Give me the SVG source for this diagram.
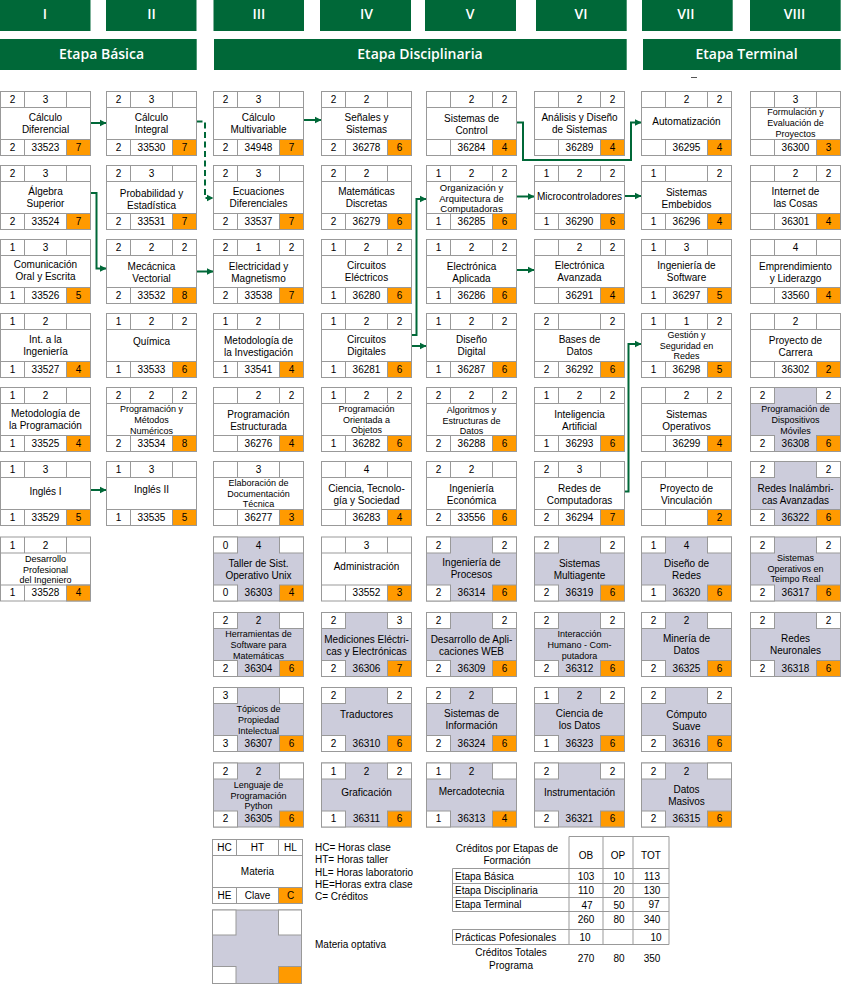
<svg xmlns="http://www.w3.org/2000/svg" xmlns:xlink="http://www.w3.org/1999/xlink" width="843" height="984" viewBox="0 0 843 984">
<style>
.hd{fill:#006838}
.ht{font-family:"Open Sans","Noto Sans",sans-serif;font-size:14px;font-weight:600;fill:#fff;text-anchor:middle}
.d{font-family:"Liberation Sans",Arial,sans-serif;font-size:10px;fill:#000;text-anchor:middle}
.l{font-family:"Liberation Sans",Arial,sans-serif;font-size:10px;fill:#000;text-anchor:middle}
.s{font-family:"Liberation Sans",Arial,sans-serif;font-size:9px;fill:#000;text-anchor:middle}
.lg{font-family:"Liberation Sans",Arial,sans-serif;font-size:10px;fill:#000}
.tb{font-family:"Liberation Sans",Arial,sans-serif;font-size:10px;fill:#000}
.tc{text-anchor:middle}
.c{fill:none;stroke:#006838;stroke-width:2;marker-end:url(#ah)}
.g{stroke:#999;fill:none;stroke-width:1}
</style>
<defs>
<marker id="ah" markerUnits="userSpaceOnUse" markerWidth="7" markerHeight="8" refX="7" refY="4" orient="auto"><path d="M0,0.5 L7,4 L0,7.5 z" fill="#006838"/></marker>
<g id="bn">
<rect x="0" y="0" width="90" height="64" fill="#fff" stroke="#999"/>
<rect x="66" y="48" width="24" height="16" fill="#FF9A00" stroke="#999"/>
<path d="M0,16H90M0,48H90M24,0V16M66,0V16M24,48V64M66,48V64" stroke="#999" fill="none"/>
</g>
<g id="bo">
<rect x="0" y="0" width="90" height="64" fill="#CCCCDB" stroke="#999"/>
<rect x="0" y="0" width="24" height="16" fill="#fff" stroke="#999"/>
<rect x="66" y="0" width="24" height="16" fill="#fff" stroke="#999"/>
<rect x="0" y="48" width="24" height="16" fill="#fff" stroke="#999"/>
<rect x="66" y="48" width="24" height="16" fill="#FF9A00" stroke="#999"/>
</g>
</defs>
<rect width="843" height="984" fill="#fff"/>

<g id="headers">
<rect class="hd" x="0" y="0" width="90.5" height="31"/>
<rect class="hd" x="106" y="0" width="90.5" height="31"/>
<rect class="hd" x="213.5" y="0" width="90.5" height="31"/>
<rect class="hd" x="320" y="0" width="91" height="31"/>
<rect class="hd" x="425" y="0" width="91" height="31"/>
<rect class="hd" x="536" y="0" width="90.7" height="31"/>
<rect class="hd" x="642" y="0" width="90.7" height="31"/>
<rect class="hd" x="750" y="0" width="90.7" height="31"/>
<text class="ht" x="45" y="19">I</text>
<text class="ht" x="151.5" y="19">II</text>
<text class="ht" x="259" y="19">III</text>
<text class="ht" x="366.5" y="19">IV</text>
<text class="ht" x="470" y="19">V</text>
<text class="ht" x="581" y="19">VI</text>
<text class="ht" x="686" y="19">VII</text>
<text class="ht" x="794.5" y="19">VIII</text>
<rect class="hd" x="0" y="39" width="196.7" height="31"/>
<rect class="hd" x="214" y="39" width="412.7" height="31"/>
<rect class="hd" x="643" y="39" width="197.7" height="31"/>
<text class="ht" x="101.5" y="59">Etapa Básica</text>
<text class="ht" x="420" y="59">Etapa Disciplinaria</text>
<text class="ht" x="746.5" y="59">Etapa Terminal</text>
<path d="M691,77.5H697" stroke="#555" stroke-width="1"/>
</g>

<g id="connectors">
<path class="c" d="M90.5,123H106.5"/>
<path class="c" d="M196.5,121.5H205V198H213.5" stroke-dasharray="6,3.5"/>
<path class="c" d="M303.5,120H321.5"/>
<path class="c" d="M90.5,193H96.5V268.5H106.5"/>
<path class="c" d="M196.5,271.5H213.5"/>
<path class="c" d="M516.5,122.5H523V160H631V122.5H641.5"/>
<path class="c" d="M516.5,196.5H534.5"/>
<path class="c" d="M624.5,196H641.5"/>
<path class="c" d="M411.5,335H416.5V199H426.5"/>
<path class="c" d="M411.5,346H426.5"/>
<path class="c" d="M516.5,270H534.5"/>
<path class="c" d="M624.5,491.5H628.5V344H641.5"/>
<path class="c" d="M90.5,490H106.5"/>
</g>

<g id="col1">
<g id="n33523" transform="translate(0.5,91.5)"><use href="#bn"/><text class="d" y="11.5"><tspan x="12">2</tspan><tspan x="45">3</tspan></text><text class="d" y="59"><tspan x="12">2</tspan><tspan x="45">33523</tspan><tspan x="78">7</tspan></text><text class="l"><tspan x="45" y="29.5">Cálculo</tspan><tspan x="45" y="41.5">Diferencial</tspan></text></g>
<g id="n33524" transform="translate(0.5,165.5)"><use href="#bn"/><text class="d" y="11.5"><tspan x="12">2</tspan><tspan x="45">3</tspan></text><text class="d" y="59"><tspan x="12">2</tspan><tspan x="45">33524</tspan><tspan x="78">7</tspan></text><text class="l"><tspan x="45" y="29.5">Álgebra</tspan><tspan x="45" y="41.5">Superior</tspan></text></g>
<g id="n33526" transform="translate(0.5,239.5)"><use href="#bn"/><text class="d" y="11.5"><tspan x="12">1</tspan><tspan x="45">3</tspan></text><text class="d" y="59"><tspan x="12">1</tspan><tspan x="45">33526</tspan><tspan x="78">5</tspan></text><text class="l"><tspan x="45" y="28.5">Comunicación</tspan><tspan x="45" y="40.5">Oral y Escrita</tspan></text></g>
<g id="n33527" transform="translate(0.5,313.5)"><use href="#bn"/><text class="d" y="11.5"><tspan x="12">1</tspan><tspan x="45">2</tspan></text><text class="d" y="59"><tspan x="12">1</tspan><tspan x="45">33527</tspan><tspan x="78">4</tspan></text><text class="l"><tspan x="45" y="29.5">Int. a la</tspan><tspan x="45" y="41.5">Ingeniería</tspan></text></g>
<g id="n33525" transform="translate(0.5,387.5)"><use href="#bn"/><text class="d" y="11.5"><tspan x="12">1</tspan><tspan x="45">2</tspan></text><text class="d" y="59"><tspan x="12">1</tspan><tspan x="45">33525</tspan><tspan x="78">4</tspan></text><text class="l"><tspan x="45" y="29.5">Metodología de</tspan><tspan x="45" y="41.5">la Programación</tspan></text></g>
<g id="n33529" transform="translate(0.5,461.5)"><use href="#bn"/><text class="d" y="11.5"><tspan x="12">1</tspan><tspan x="45">3</tspan></text><text class="d" y="59"><tspan x="12">1</tspan><tspan x="45">33529</tspan><tspan x="78">5</tspan></text><text class="l"><tspan x="45" y="33.5">Inglés I</tspan></text></g>
<g id="n33528" transform="translate(0.5,537)"><use href="#bn"/><text class="d" y="11.5"><tspan x="12">1</tspan><tspan x="45">2</tspan></text><text class="d" y="59"><tspan x="12">1</tspan><tspan x="45">33528</tspan><tspan x="78">4</tspan></text><text class="s"><tspan x="45" y="24.5">Desarrollo</tspan><tspan x="45" y="35.5">Profesional</tspan><tspan x="45" y="46">del Ingeniero</tspan></text></g>
</g>

<g id="col2">
<g id="n33530" transform="translate(106.5,91.5)"><use href="#bn"/><text class="d" y="11.5"><tspan x="12">2</tspan><tspan x="45">3</tspan></text><text class="d" y="59"><tspan x="12">2</tspan><tspan x="45">33530</tspan><tspan x="78">7</tspan></text><text class="l"><tspan x="45" y="29.5">Cálculo</tspan><tspan x="45" y="41.5">Integral</tspan></text></g>
<g id="n33531" transform="translate(106.5,165.5)"><use href="#bn"/><text class="d" y="11.5"><tspan x="12">2</tspan><tspan x="45">3</tspan></text><text class="d" y="59"><tspan x="12">2</tspan><tspan x="45">33531</tspan><tspan x="78">7</tspan></text><text class="l"><tspan x="45" y="31">Probabilidad y</tspan><tspan x="45" y="43">Estadística</tspan></text></g>
<g id="n33532" transform="translate(106.5,239.5)"><use href="#bn"/><text class="d" y="11.5"><tspan x="12">2</tspan><tspan x="45">2</tspan><tspan x="78">2</tspan></text><text class="d" y="59"><tspan x="12">2</tspan><tspan x="45">33532</tspan><tspan x="78">8</tspan></text><text class="l"><tspan x="45" y="30">Mecácnica</tspan><tspan x="45" y="42">Vectorial</tspan></text></g>
<g id="n33533" transform="translate(106.5,313.5)"><use href="#bn"/><text class="d" y="11.5"><tspan x="12">1</tspan><tspan x="45">2</tspan><tspan x="78">2</tspan></text><text class="d" y="59"><tspan x="12">1</tspan><tspan x="45">33533</tspan><tspan x="78">6</tspan></text><text class="l"><tspan x="45" y="31">Química</tspan></text></g>
<g id="n33534" transform="translate(106.5,387.5)"><use href="#bn"/><text class="d" y="11.5"><tspan x="12">2</tspan><tspan x="45">2</tspan><tspan x="78">2</tspan></text><text class="d" y="59"><tspan x="12">2</tspan><tspan x="45">33534</tspan><tspan x="78">8</tspan></text><text class="s"><tspan x="45" y="24.5">Programación y</tspan><tspan x="45" y="35.5">Métodos</tspan><tspan x="45" y="46">Numéricos</tspan></text></g>
<g id="n33535" transform="translate(106.5,461.5)"><use href="#bn"/><text class="d" y="11.5"><tspan x="12">1</tspan><tspan x="45">3</tspan></text><text class="d" y="59"><tspan x="12">1</tspan><tspan x="45">33535</tspan><tspan x="78">5</tspan></text><text class="l"><tspan x="45" y="31.5">Inglés II</tspan></text></g>
</g>

<g id="col3">
<g id="n34948" transform="translate(213.5,91.5)"><use href="#bn"/><text class="d" y="11.5"><tspan x="12">2</tspan><tspan x="45">3</tspan></text><text class="d" y="59"><tspan x="12">2</tspan><tspan x="45">34948</tspan><tspan x="78">7</tspan></text><text class="l"><tspan x="45" y="29.5">Cálculo</tspan><tspan x="45" y="41.5">Multivariable</tspan></text></g>
<g id="n33537" transform="translate(213.5,165.5)"><use href="#bn"/><text class="d" y="11.5"><tspan x="12">2</tspan><tspan x="45">3</tspan></text><text class="d" y="59"><tspan x="12">2</tspan><tspan x="45">33537</tspan><tspan x="78">7</tspan></text><text class="l"><tspan x="45" y="29.5">Ecuaciones</tspan><tspan x="45" y="41.5">Diferenciales</tspan></text></g>
<g id="n33538" transform="translate(213.5,239.5)"><use href="#bn"/><text class="d" y="11.5"><tspan x="12">2</tspan><tspan x="45">1</tspan><tspan x="78">2</tspan></text><text class="d" y="59"><tspan x="12">2</tspan><tspan x="45">33538</tspan><tspan x="78">7</tspan></text><text class="l"><tspan x="45" y="30">Electricidad y</tspan><tspan x="45" y="42">Magnetismo</tspan></text></g>
<g id="n33541" transform="translate(213.5,313.5)"><use href="#bn"/><text class="d" y="11.5"><tspan x="12">1</tspan><tspan x="45">2</tspan></text><text class="d" y="59"><tspan x="12">1</tspan><tspan x="45">33541</tspan><tspan x="78">4</tspan></text><text class="l"><tspan x="45" y="30.5">Metodología de</tspan><tspan x="45" y="42.5">la Investigación</tspan></text></g>
<g id="n36276" transform="translate(213.5,387.5)"><use href="#bn"/><text class="d" y="11.5"><tspan x="45">2</tspan><tspan x="78">2</tspan></text><text class="d" y="59"><tspan x="45">36276</tspan><tspan x="78">4</tspan></text><text class="l"><tspan x="45" y="30.5">Programación</tspan><tspan x="45" y="42.5">Estructurada</tspan></text></g>
<g id="n36277" transform="translate(213.5,461.5)"><use href="#bn"/><text class="d" y="11.5"><tspan x="45">3</tspan></text><text class="d" y="59"><tspan x="45">36277</tspan><tspan x="78">3</tspan></text><text class="s"><tspan x="45" y="24">Elaboración de</tspan><tspan x="45" y="35">Documentación</tspan><tspan x="45" y="45.5">Técnica</tspan></text></g>
<g id="n36303" transform="translate(213.5,537)"><use href="#bo"/><text class="d" y="11.5"><tspan x="12">0</tspan><tspan x="45">4</tspan></text><text class="d" y="59"><tspan x="12">0</tspan><tspan x="45">36303</tspan><tspan x="78">4</tspan></text><text class="l"><tspan x="45" y="29.5">Taller de Sist.</tspan><tspan x="45" y="41.5">Operativo Unix</tspan></text></g>
<g id="n36304" transform="translate(213.5,612.5)"><use href="#bo"/><text class="d" y="11.5"><tspan x="12">2</tspan><tspan x="45">2</tspan></text><text class="d" y="59"><tspan x="12">2</tspan><tspan x="45">36304</tspan><tspan x="78">6</tspan></text><text class="s"><tspan x="45" y="24.5">Herramientas de</tspan><tspan x="45" y="35.5">Software para</tspan><tspan x="45" y="46">Matemáticas</tspan></text></g>
<g id="n36307" transform="translate(213.5,687.5)"><use href="#bo"/><text class="d" y="11.5"><tspan x="12">3</tspan></text><text class="d" y="59"><tspan x="12">3</tspan><tspan x="45">36307</tspan><tspan x="78">6</tspan></text><text class="s"><tspan x="45" y="24.5">Tópicos de</tspan><tspan x="45" y="35.5">Propiedad</tspan><tspan x="45" y="46">Intelectual</tspan></text></g>
<g id="n36305" transform="translate(213.5,763)"><use href="#bo"/><text class="d" y="11.5"><tspan x="12">2</tspan><tspan x="45">2</tspan></text><text class="d" y="59"><tspan x="12">2</tspan><tspan x="45">36305</tspan><tspan x="78">6</tspan></text><text class="s"><tspan x="45" y="24.5">Lenguaje de</tspan><tspan x="45" y="35.5">Programación</tspan><tspan x="45" y="46">Python</tspan></text></g>
</g>

<g id="col4">
<g id="n36278" transform="translate(321.5,91.5)"><use href="#bn"/><text class="d" y="11.5"><tspan x="12">2</tspan><tspan x="45">2</tspan></text><text class="d" y="59"><tspan x="12">2</tspan><tspan x="45">36278</tspan><tspan x="78">6</tspan></text><text class="l"><tspan x="45" y="29">Señales y</tspan><tspan x="45" y="41">Sistemas</tspan></text></g>
<g id="n36279" transform="translate(321.5,165.5)"><use href="#bn"/><text class="d" y="11.5"><tspan x="12">2</tspan><tspan x="45">2</tspan></text><text class="d" y="59"><tspan x="12">2</tspan><tspan x="45">36279</tspan><tspan x="78">6</tspan></text><text class="l"><tspan x="45" y="29.5">Matemáticas</tspan><tspan x="45" y="41.5">Discretas</tspan></text></g>
<g id="n36280" transform="translate(321.5,239.5)"><use href="#bn"/><text class="d" y="11.5"><tspan x="12">1</tspan><tspan x="45">2</tspan><tspan x="78">2</tspan></text><text class="d" y="59"><tspan x="12">1</tspan><tspan x="45">36280</tspan><tspan x="78">6</tspan></text><text class="l"><tspan x="45" y="29.5">Circuitos</tspan><tspan x="45" y="41.5">Eléctricos</tspan></text></g>
<g id="n36281" transform="translate(321.5,313.5)"><use href="#bn"/><text class="d" y="11.5"><tspan x="12">1</tspan><tspan x="45">2</tspan><tspan x="78">2</tspan></text><text class="d" y="59"><tspan x="12">1</tspan><tspan x="45">36281</tspan><tspan x="78">6</tspan></text><text class="l"><tspan x="45" y="29.5">Circuitos</tspan><tspan x="45" y="41.5">Digitales</tspan></text></g>
<g id="n36282" transform="translate(321.5,387.5)"><use href="#bn"/><text class="d" y="11.5"><tspan x="12">1</tspan><tspan x="45">2</tspan><tspan x="78">2</tspan></text><text class="d" y="59"><tspan x="12">1</tspan><tspan x="45">36282</tspan><tspan x="78">6</tspan></text><text class="s"><tspan x="45" y="24">Programación</tspan><tspan x="45" y="35">Orientada a</tspan><tspan x="45" y="45.5">Objetos</tspan></text></g>
<g id="n36283" transform="translate(321.5,461.5)"><use href="#bn"/><text class="d" y="11.5"><tspan x="45">4</tspan></text><text class="d" y="59"><tspan x="45">36283</tspan><tspan x="78">4</tspan></text><text class="l"><tspan x="45" y="30">Ciencia, Tecnolo-</tspan><tspan x="45" y="42">gía y Sociedad</tspan></text></g>
<g id="n33552" transform="translate(321.5,537)"><use href="#bn"/><text class="d" y="11.5"><tspan x="45">3</tspan></text><text class="d" y="59"><tspan x="45">33552</tspan><tspan x="78">3</tspan></text><text class="l"><tspan x="45" y="33">Administración</tspan></text></g>
<g id="n36306" transform="translate(321.5,612.5)"><use href="#bo"/><text class="d" y="11.5"><tspan x="12">2</tspan><tspan x="78">3</tspan></text><text class="d" y="59"><tspan x="12">2</tspan><tspan x="45">36306</tspan><tspan x="78">7</tspan></text><text class="l"><tspan x="45" y="30">Mediciones Eléctri-</tspan><tspan x="45" y="42">cas y Electrónicas</tspan></text></g>
<g id="n36310" transform="translate(321.5,687.5)"><use href="#bo"/><text class="d" y="11.5"><tspan x="12">2</tspan><tspan x="78">2</tspan></text><text class="d" y="59"><tspan x="12">2</tspan><tspan x="45">36310</tspan><tspan x="78">6</tspan></text><text class="l"><tspan x="45" y="30.5">Traductores</tspan></text></g>
<g id="n36311" transform="translate(321.5,763)"><use href="#bo"/><text class="d" y="11.5"><tspan x="12">1</tspan><tspan x="45">2</tspan><tspan x="78">2</tspan></text><text class="d" y="59"><tspan x="12">1</tspan><tspan x="45">36311</tspan><tspan x="78">6</tspan></text><text class="l"><tspan x="45" y="33">Graficación</tspan></text></g>
</g>

<g id="col5">
<g id="n36284" transform="translate(426.5,91.5)"><use href="#bn"/><text class="d" y="11.5"><tspan x="45">2</tspan><tspan x="78">2</tspan></text><text class="d" y="59"><tspan x="45">36284</tspan><tspan x="78">4</tspan></text><text class="l"><tspan x="45" y="30.5">Sistemas de</tspan><tspan x="45" y="42.5">Control</tspan></text></g>
<g id="n36285" transform="translate(426.5,165.5)"><use href="#bn"/><text class="d" y="11.5"><tspan x="12">1</tspan><tspan x="45">2</tspan><tspan x="78">2</tspan></text><text class="d" y="59"><tspan x="12">1</tspan><tspan x="45">36285</tspan><tspan x="78">6</tspan></text><text class="s" style="font-size:9.5px"><tspan x="45" y="25">Organización y</tspan><tspan x="45" y="36">Arquitectura de</tspan><tspan x="45" y="46.5">Computadoras</tspan></text></g>
<g id="n36286" transform="translate(426.5,239.5)"><use href="#bn"/><text class="d" y="11.5"><tspan x="12">1</tspan><tspan x="45">2</tspan><tspan x="78">2</tspan></text><text class="d" y="59"><tspan x="12">1</tspan><tspan x="45">36286</tspan><tspan x="78">6</tspan></text><text class="l"><tspan x="45" y="30.5">Electrónica</tspan><tspan x="45" y="42.5">Aplicada</tspan></text></g>
<g id="n36287" transform="translate(426.5,313.5)"><use href="#bn"/><text class="d" y="11.5"><tspan x="12">1</tspan><tspan x="45">2</tspan><tspan x="78">2</tspan></text><text class="d" y="59"><tspan x="12">1</tspan><tspan x="45">36287</tspan><tspan x="78">6</tspan></text><text class="l"><tspan x="45" y="29.5">Diseño</tspan><tspan x="45" y="41.5">Digital</tspan></text></g>
<g id="n36288" transform="translate(426.5,387.5)"><use href="#bn"/><text class="d" y="11.5"><tspan x="12">2</tspan><tspan x="45">2</tspan><tspan x="78">2</tspan></text><text class="d" y="59"><tspan x="12">2</tspan><tspan x="45">36288</tspan><tspan x="78">6</tspan></text><text class="s"><tspan x="45" y="25">Algoritmos y</tspan><tspan x="45" y="36">Estructuras de</tspan><tspan x="45" y="46.5">Datos</tspan></text></g>
<g id="n33556" transform="translate(426.5,461.5)"><use href="#bn"/><text class="d" y="11.5"><tspan x="12">2</tspan><tspan x="45">2</tspan></text><text class="d" y="59"><tspan x="12">2</tspan><tspan x="45">33556</tspan><tspan x="78">6</tspan></text><text class="l"><tspan x="45" y="30">Ingeniería</tspan><tspan x="45" y="42">Económica</tspan></text></g>
<g id="n36314" transform="translate(426.5,537)"><use href="#bo"/><text class="d" y="11.5"><tspan x="12">2</tspan><tspan x="78">2</tspan></text><text class="d" y="59"><tspan x="12">2</tspan><tspan x="45">36314</tspan><tspan x="78">6</tspan></text><text class="l"><tspan x="45" y="28.5">Ingeniería de</tspan><tspan x="45" y="40.5">Procesos</tspan></text></g>
<g id="n36309" transform="translate(426.5,612.5)"><use href="#bo"/><text class="d" y="11.5"><tspan x="12">2</tspan><tspan x="78">2</tspan></text><text class="d" y="59"><tspan x="12">2</tspan><tspan x="45">36309</tspan><tspan x="78">6</tspan></text><text class="l"><tspan x="45" y="30">Desarrollo de Apli-</tspan><tspan x="45" y="42">caciones WEB</tspan></text></g>
<g id="n36324" transform="translate(426.5,687.5)"><use href="#bo"/><text class="d" y="11.5"><tspan x="12">2</tspan><tspan x="45">2</tspan></text><text class="d" y="59"><tspan x="12">2</tspan><tspan x="45">36324</tspan><tspan x="78">6</tspan></text><text class="l"><tspan x="45" y="29">Sistemas de</tspan><tspan x="45" y="41">Información</tspan></text></g>
<g id="n36313" transform="translate(426.5,763)"><use href="#bo"/><text class="d" y="11.5"><tspan x="12">1</tspan><tspan x="45">2</tspan></text><text class="d" y="59"><tspan x="12">1</tspan><tspan x="45">36313</tspan><tspan x="78">4</tspan></text><text class="l"><tspan x="45" y="32">Mercadotecnia</tspan></text></g>
</g>

<g id="col6">
<g id="n36289" transform="translate(534.5,91.5)"><use href="#bn"/><text class="d" y="11.5"><tspan x="45">2</tspan><tspan x="78">2</tspan></text><text class="d" y="59"><tspan x="45">36289</tspan><tspan x="78">4</tspan></text><text class="l"><tspan x="45" y="29.5">Análisis y Diseño</tspan><tspan x="45" y="41.5">de Sistemas</tspan></text></g>
<g id="n36290" transform="translate(534.5,165.5)"><use href="#bn"/><text class="d" y="11.5"><tspan x="12">1</tspan><tspan x="45">2</tspan><tspan x="78">2</tspan></text><text class="d" y="59"><tspan x="12">1</tspan><tspan x="45">36290</tspan><tspan x="78">6</tspan></text><text class="l"><tspan x="45" y="34">Microcontroladores</tspan></text></g>
<g id="n36291" transform="translate(534.5,239.5)"><use href="#bn"/><text class="d" y="11.5"><tspan x="45">2</tspan><tspan x="78">2</tspan></text><text class="d" y="59"><tspan x="45">36291</tspan><tspan x="78">4</tspan></text><text class="l"><tspan x="45" y="29.5">Electrónica</tspan><tspan x="45" y="41.5">Avanzada</tspan></text></g>
<g id="n36292" transform="translate(534.5,313.5)"><use href="#bn"/><text class="d" y="11.5"><tspan x="12">2</tspan><tspan x="78">2</tspan></text><text class="d" y="59"><tspan x="12">2</tspan><tspan x="45">36292</tspan><tspan x="78">6</tspan></text><text class="l"><tspan x="45" y="29.5">Bases de</tspan><tspan x="45" y="41.5">Datos</tspan></text></g>
<g id="n36293" transform="translate(534.5,387.5)"><use href="#bn"/><text class="d" y="11.5"><tspan x="12">1</tspan><tspan x="45">2</tspan><tspan x="78">2</tspan></text><text class="d" y="59"><tspan x="12">1</tspan><tspan x="45">36293</tspan><tspan x="78">6</tspan></text><text class="l"><tspan x="45" y="30">Inteligencia</tspan><tspan x="45" y="42">Artificial</tspan></text></g>
<g id="n36294" transform="translate(534.5,461.5)"><use href="#bn"/><text class="d" y="11.5"><tspan x="12">2</tspan><tspan x="45">3</tspan></text><text class="d" y="59"><tspan x="12">2</tspan><tspan x="45">36294</tspan><tspan x="78">7</tspan></text><text class="l"><tspan x="45" y="30.5">Redes de</tspan><tspan x="45" y="42.5">Computadoras</tspan></text></g>
<g id="n36319" transform="translate(534.5,537)"><use href="#bo"/><text class="d" y="11.5"><tspan x="12">2</tspan><tspan x="78">2</tspan></text><text class="d" y="59"><tspan x="12">2</tspan><tspan x="45">36319</tspan><tspan x="78">6</tspan></text><text class="l"><tspan x="45" y="29.5">Sistemas</tspan><tspan x="45" y="41.5">Multiagente</tspan></text></g>
<g id="n36312" transform="translate(534.5,612.5)"><use href="#bo"/><text class="d" y="11.5"><tspan x="12">2</tspan><tspan x="78">2</tspan></text><text class="d" y="59"><tspan x="12">2</tspan><tspan x="45">36312</tspan><tspan x="78">6</tspan></text><text class="s"><tspan x="45" y="24.5">Interacción</tspan><tspan x="45" y="35.5">Humano - Com-</tspan><tspan x="45" y="46">putadora</tspan></text></g>
<g id="n36323" transform="translate(534.5,687.5)"><use href="#bo"/><text class="d" y="11.5"><tspan x="12">1</tspan><tspan x="45">2</tspan><tspan x="78">2</tspan></text><text class="d" y="59"><tspan x="12">1</tspan><tspan x="45">36323</tspan><tspan x="78">6</tspan></text><text class="l"><tspan x="45" y="29.5">Ciencia de</tspan><tspan x="45" y="41.5">los Datos</tspan></text></g>
<g id="n36321" transform="translate(534.5,763)"><use href="#bo"/><text class="d" y="11.5"><tspan x="12">2</tspan><tspan x="78">2</tspan></text><text class="d" y="59"><tspan x="12">2</tspan><tspan x="45">36321</tspan><tspan x="78">6</tspan></text><text class="l"><tspan x="45" y="33">Instrumentación</tspan></text></g>
</g>

<g id="col7">
<g id="n36295" transform="translate(641.5,91.5)"><use href="#bn"/><text class="d" y="11.5"><tspan x="45">2</tspan><tspan x="78">2</tspan></text><text class="d" y="59"><tspan x="45">36295</tspan><tspan x="78">4</tspan></text><text class="l"><tspan x="45" y="33.5">Automatización</tspan></text></g>
<g id="n36296" transform="translate(641.5,165.5)"><use href="#bn"/><text class="d" y="11.5"><tspan x="12">1</tspan><tspan x="78">2</tspan></text><text class="d" y="59"><tspan x="12">1</tspan><tspan x="45">36296</tspan><tspan x="78">4</tspan></text><text class="l"><tspan x="45" y="30">Sistemas</tspan><tspan x="45" y="42">Embebidos</tspan></text></g>
<g id="n36297" transform="translate(641.5,239.5)"><use href="#bn"/><text class="d" y="11.5"><tspan x="12">1</tspan><tspan x="45">3</tspan></text><text class="d" y="59"><tspan x="12">1</tspan><tspan x="45">36297</tspan><tspan x="78">5</tspan></text><text class="l"><tspan x="45" y="29.5">Ingeniería de</tspan><tspan x="45" y="41.5">Software</tspan></text></g>
<g id="n36298" transform="translate(641.5,313.5)"><use href="#bn"/><text class="d" y="11.5"><tspan x="12">1</tspan><tspan x="45">1</tspan><tspan x="78">2</tspan></text><text class="d" y="59"><tspan x="12">1</tspan><tspan x="45">36298</tspan><tspan x="78">5</tspan></text><text class="s"><tspan x="45" y="24">Gestión y</tspan><tspan x="45" y="35">Seguridad en</tspan><tspan x="45" y="45.5">Redes</tspan></text></g>
<g id="n36299" transform="translate(641.5,387.5)"><use href="#bn"/><text class="d" y="11.5"><tspan x="45">2</tspan><tspan x="78">2</tspan></text><text class="d" y="59"><tspan x="45">36299</tspan><tspan x="78">4</tspan></text><text class="l"><tspan x="45" y="30">Sistemas</tspan><tspan x="45" y="42">Operativos</tspan></text></g>
<g id="nPV" transform="translate(641.5,461.5)"><use href="#bn"/><text class="d" y="59"><tspan x="78">2</tspan></text><text class="l"><tspan x="45" y="30.5">Proyecto de</tspan><tspan x="45" y="42.5">Vinculación</tspan></text></g>
<g id="n36320" transform="translate(641.5,537)"><use href="#bo"/><text class="d" y="11.5"><tspan x="12">1</tspan><tspan x="45">4</tspan></text><text class="d" y="59"><tspan x="12">1</tspan><tspan x="45">36320</tspan><tspan x="78">6</tspan></text><text class="l"><tspan x="45" y="29.5">Diseño de</tspan><tspan x="45" y="41.5">Redes</tspan></text></g>
<g id="n36325" transform="translate(641.5,612.5)"><use href="#bo"/><text class="d" y="11.5"><tspan x="12">2</tspan><tspan x="45">2</tspan></text><text class="d" y="59"><tspan x="12">2</tspan><tspan x="45">36325</tspan><tspan x="78">6</tspan></text><text class="l"><tspan x="45" y="29.5">Minería de</tspan><tspan x="45" y="41.5">Datos</tspan></text></g>
<g id="n36316" transform="translate(641.5,687.5)"><use href="#bo"/><text class="d" y="11.5"><tspan x="12">2</tspan><tspan x="78">2</tspan></text><text class="d" y="59"><tspan x="12">2</tspan><tspan x="45">36316</tspan><tspan x="78">6</tspan></text><text class="l"><tspan x="45" y="30">Cómputo</tspan><tspan x="45" y="42">Suave</tspan></text></g>
<g id="n36315" transform="translate(641.5,763)"><use href="#bo"/><text class="d" y="11.5"><tspan x="12">2</tspan><tspan x="45">2</tspan></text><text class="d" y="59"><tspan x="12">2</tspan><tspan x="45">36315</tspan><tspan x="78">6</tspan></text><text class="l"><tspan x="45" y="30">Datos</tspan><tspan x="45" y="42">Masivos</tspan></text></g>
</g>

<g id="col8">
<g id="n36300" transform="translate(750.5,91.5)"><use href="#bn"/><text class="d" y="11.5"><tspan x="45">3</tspan></text><text class="d" y="59"><tspan x="45">36300</tspan><tspan x="78">3</tspan></text><text class="s"><tspan x="45" y="23.5">Formulación y</tspan><tspan x="45" y="34.5">Evaluación de</tspan><tspan x="45" y="45.5">Proyectos</tspan></text></g>
<g id="n36301" transform="translate(750.5,165.5)"><use href="#bn"/><text class="d" y="11.5"><tspan x="45">2</tspan><tspan x="78">2</tspan></text><text class="d" y="59"><tspan x="45">36301</tspan><tspan x="78">4</tspan></text><text class="l"><tspan x="45" y="29.5">Internet de</tspan><tspan x="45" y="41.5">las Cosas</tspan></text></g>
<g id="n33560" transform="translate(750.5,239.5)"><use href="#bn"/><text class="d" y="11.5"><tspan x="45">4</tspan></text><text class="d" y="59"><tspan x="45">33560</tspan><tspan x="78">4</tspan></text><text class="l"><tspan x="45" y="30">Emprendimiento</tspan><tspan x="45" y="42">y Liderazgo</tspan></text></g>
<g id="n36302" transform="translate(750.5,313.5)"><use href="#bn"/><text class="d" y="11.5"><tspan x="45">2</tspan></text><text class="d" y="59"><tspan x="45">36302</tspan><tspan x="78">2</tspan></text><text class="l"><tspan x="45" y="30">Proyecto de</tspan><tspan x="45" y="42">Carrera</tspan></text></g>
<g id="n36308" transform="translate(750.5,387.5)"><use href="#bo"/><text class="d" y="11.5"><tspan x="12">2</tspan><tspan x="78">2</tspan></text><text class="d" y="59"><tspan x="12">2</tspan><tspan x="45">36308</tspan><tspan x="78">6</tspan></text><text class="s"><tspan x="45" y="24.5">Programación de</tspan><tspan x="45" y="35.5">Dispositivos</tspan><tspan x="45" y="46">Móviles</tspan></text></g>
<g id="n36322" transform="translate(750.5,461.5)"><use href="#bo"/><text class="d" y="11.5"><tspan x="12">2</tspan><tspan x="78">2</tspan></text><text class="d" y="59"><tspan x="12">2</tspan><tspan x="45">36322</tspan><tspan x="78">6</tspan></text><text class="l"><tspan x="45" y="30">Redes Inalámbri-</tspan><tspan x="45" y="42">cas Avanzadas</tspan></text></g>
<g id="n36317" transform="translate(750.5,537)"><use href="#bo"/><text class="d" y="11.5"><tspan x="12">2</tspan><tspan x="78">2</tspan></text><text class="d" y="59"><tspan x="12">2</tspan><tspan x="45">36317</tspan><tspan x="78">6</tspan></text><text class="s"><tspan x="45" y="23.5">Sistemas</tspan><tspan x="45" y="34.5">Operativos en</tspan><tspan x="45" y="45">Teimpo Real</tspan></text></g>
<g id="n36318" transform="translate(750.5,612.5)"><use href="#bo"/><text class="d" y="11.5"><tspan x="12">2</tspan><tspan x="78">2</tspan></text><text class="d" y="59"><tspan x="12">2</tspan><tspan x="45">36318</tspan><tspan x="78">6</tspan></text><text class="l"><tspan x="45" y="29.5">Redes</tspan><tspan x="45" y="41.5">Neuronales</tspan></text></g>
</g>

<g id="legend">
<g id="legend-box" transform="translate(212.5,839.5)"><use href="#bn"/><text class="d" y="11.5"><tspan x="12">HC</tspan><tspan x="45">HT</tspan><tspan x="78">HL</tspan></text><text class="d" y="59"><tspan x="12">HE</tspan><tspan x="45">Clave</tspan><tspan x="78">C</tspan></text><text class="l"><tspan x="45" y="35.5">Materia</tspan></text></g>
<text class="lg" x="315" y="850.5">HC= Horas clase</text>
<text class="lg" x="315" y="863">HT= Horas taller</text>
<text class="lg" x="315" y="875.5">HL= Horas laboratorio</text>
<text class="lg" x="315" y="887.5">HE=Horas extra clase</text>
<text class="lg" x="315" y="899.5">C= Créditos</text>
<g id="legend-opt">
<rect x="212.5" y="910" width="89" height="73.5" fill="#CCCCDB" stroke="#999"/>
<rect x="212.5" y="910" width="23.5" height="25" fill="#fff" stroke="#999"/>
<rect x="278.5" y="910" width="23" height="25" fill="#fff" stroke="#999"/>
<rect x="212.5" y="966.5" width="23.5" height="17" fill="#fff" stroke="#999"/>
<rect x="278.5" y="966.5" width="23" height="17" fill="#FF9A00" stroke="#999"/>
</g>
<text class="lg" x="315" y="947.5">Materia optativa</text>
</g>

<g id="credits-table">
<path class="g" d="M569,836.5H669M452.5,868.5H669M452.5,883.5H669M452.5,897.5H669M452.5,911.5H669M452.5,929.5H669M452.5,944.5H669"/>
<path class="g" d="M569,836.5V944.5M603,836.5V944.5M633,836.5V944.5M669,836.5V944.5M452.5,868.5V911.5M452.5,929.5V944.5"/>
<text class="tb tc" x="507" y="851.5">Créditos por Etapas de</text>
<text class="tb tc" x="507" y="863.5">Formación</text>
<text class="tb tc" x="586" y="858.5">OB</text>
<text class="tb tc" x="618" y="858.5">OP</text>
<text class="tb tc" x="651" y="858.5">TOT</text>
<text class="tb" x="455" y="880">Etapa Básica</text>
<text class="tb tc" y="880"><tspan x="586">103</tspan><tspan x="619">10</tspan><tspan x="652">113</tspan></text>
<text class="tb" x="455" y="894">Etapa Disciplinaria</text>
<text class="tb tc" y="894"><tspan x="586">110</tspan><tspan x="619">20</tspan><tspan x="652">130</tspan></text>
<text class="tb" x="455" y="908">Etapa Terminal</text>
<text class="tb tc" y="908.5"><tspan x="587">47</tspan><tspan x="619">50</tspan></text>
<text class="tb tc" x="654" y="907.5">97</text>
<text class="tb tc" y="922.5"><tspan x="586">260</tspan><tspan x="619">80</tspan><tspan x="652">340</tspan></text>
<text class="tb" x="455" y="941">Prácticas Pofesionales</text>
<text class="tb tc" y="941"><tspan x="585">10</tspan><tspan x="656">10</tspan></text>
<text class="tb tc" x="511" y="956">Créditos Totales</text>
<text class="tb tc" x="511" y="968.5">Programa</text>
<text class="tb tc" y="962"><tspan x="586">270</tspan><tspan x="619">80</tspan><tspan x="652">350</tspan></text>
</g>
</svg>
